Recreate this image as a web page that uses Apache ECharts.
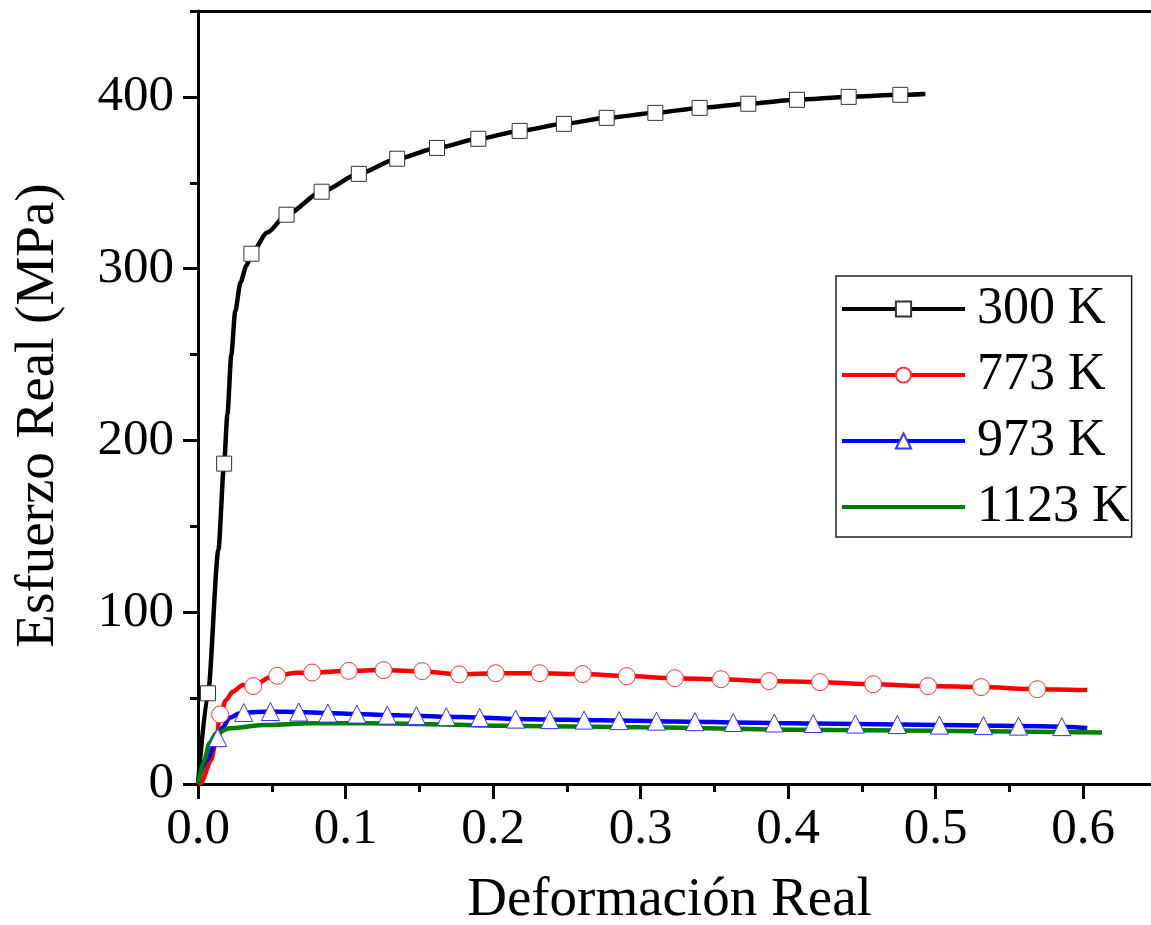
<!DOCTYPE html>
<html><head><meta charset="utf-8">
<script src="https://cdn.jsdelivr.net/npm/echarts@6/dist/echarts.min.js"></script>
<style>html,body{margin:0;padding:0;background:#fff}#c{width:1151px;height:925px}</style>
</head><body><div id="c"></div>
<script>
// ---- data ----
const seriesNames = ['300 K', '773 K', '973 K', '1123 K'];
const xTickLabels = [0, 0.1, 0.2, 0.3, 0.4, 0.5, 0.6];
const yTickLabels = [0, 100, 200, 300, 400];

// 300 K : curve points and marker (square) points
const curveStrain300 = [0, 0.0138, 0.0199, 0.0226, 0.0252, 0.0288, 0.0328, 0.047, 0.493];
const curveStress300 = [0, 136, 215, 250, 275, 292, 301.7, 321, 401.7];
const markStrain300 = [0.0068, 0.0177, 0.0362, 0.060, 0.0838, 0.109, 0.135, 0.162, 0.190, 0.218, 0.248, 0.277, 0.310, 0.340, 0.373, 0.406, 0.441, 0.476];
const markStress300 = [52.8, 186.5, 308.7, 331.4, 344.8, 355.2, 364, 370.3, 375.6, 380.2, 384.3, 387.8, 390.7, 393.6, 396, 398.3, 400, 401.2];

// 773 K : curve points and marker (circle) points
const curveStrain773 = [0, 0.002, 0.0089, 0.0123, 0.019, 0.0235, 0.0303, 0.0484, 0.0666, 0.6027];
const curveStress773 = [0, 0.5, 14, 25.6, 48.8, 53.7, 57.6, 62, 64.7, 54.7];
const markStrain773 = [0.015, 0.0374, 0.0537, 0.0774, 0.1022, 0.1258, 0.152, 0.177, 0.2018, 0.2316, 0.2608, 0.2906, 0.3232, 0.3544, 0.387, 0.4216, 0.4576, 0.4949, 0.5308, 0.5688];
const markStress773 = [40.5, 57, 63, 64.9, 65.9, 66.3, 65.7, 63.8, 64.5, 64.5, 64, 62.8, 61.6, 61, 59.9, 59.3, 58.1, 57, 56.4, 55.2];

// 973 K : curve points and marker (triangle) points
const curveStrain973 = [0, 0.006, 0.0168, 0.0213, 0.028, 0.6027];
const curveStress973 = [2, 14, 33, 38.5, 41, 32.6];
const markStrain973 = [0.0134, 0.031, 0.0491, 0.0683, 0.088, 0.1077, 0.1283, 0.148, 0.1683, 0.1909, 0.2153, 0.2384, 0.2617, 0.2854, 0.3108, 0.3368, 0.3628, 0.3906, 0.417, 0.4456, 0.474, 0.5025, 0.5324, 0.5561, 0.5855];
const markStress973 = [27, 41.6, 42.2, 41.9, 41.3, 40.7, 40.1, 39.8, 39.2, 38.7, 37.8, 37.5, 37.2, 36.9, 36.6, 36.3, 35.8, 35.5, 35.2, 34.9, 34.6, 34.3, 34, 33.7, 33.4];

// 1123 K : curve only
const curveStrain1123 = [0, 0.0043, 0.0077, 0.0123, 0.0213, 0.0439, 0.0778, 0.1117, 0.15, 0.2045, 0.3, 0.408, 0.5, 0.55, 0.6127];
const curveStress1123 = [0, 14, 23.7, 29.5, 32.4, 34.3, 35.3, 35.3, 35, 33.9, 33, 31.6, 31, 30.5, 30];
const markStrain1123 = [];
const markStress1123 = [];

// ---- build ----
function buildData(cx, cy, mx, my) {
  const pts = [];
  cx.forEach((x, i) => pts.push({ value: [x, cy[i]], symbol: 'none' }));
  mx.forEach((x, i) => pts.push({ value: [x, my[i]] }));
  pts.sort((a, b) => a.value[0] - b.value[0]);
  return pts;
}
const FONT = '"Liberation Serif", "Times New Roman", serif';

const styles = [
  { color: '#000000', symbol: 'rect', size: 15, border: '#333333', cx: curveStrain300, cy: curveStress300, mx: markStrain300, my: markStress300 },
  { color: '#ff0000', symbol: 'circle', size: 17, border: '#ff3333', cx: curveStrain773, cy: curveStress773, mx: markStrain773, my: markStress773 },
  { color: '#0000ff', symbol: 'triangle', size: 18, border: '#3333ff', cx: curveStrain973, cy: curveStress973, mx: markStrain973, my: markStress973 },
  { color: '#008000', symbol: 'none', size: 0, border: '#008000', cx: curveStrain1123, cy: curveStress1123, mx: markStrain1123, my: markStress1123 }
];

const series = styles.map((s, i) => ({
  name: seriesNames[i],
  type: 'line',
  xAxisIndex: 0,
  yAxisIndex: 0,
  data: buildData(s.cx, s.cy, s.mx, s.my),
  symbol: s.symbol,
  symbolSize: s.size,
  showSymbol: true,
  smooth: 0.25,
  smoothMonotone: 'x',
  lineStyle: { color: s.color, width: 4.5 },
  itemStyle: s.symbol === 'none' ? { color: s.color } : { color: '#ffffff', borderColor: s.border, borderWidth: 1 },
  emphasis: { disabled: true },
  animation: false,
  clip: true
}));

const legendData = seriesNames.map((n, i) => styles[i].symbol === 'none'
  ? { name: n, icon: 'path://M0,0L100,0L100,3.3L0,3.3Z', itemStyle: { color: styles[i].color } }
  : { name: n, lineStyle: { width: 4, color: styles[i].color } });

const chart = echarts.init(document.getElementById('c'), null, { renderer: 'canvas' });
chart.setOption({
  backgroundColor: '#ffffff',
  animation: false,
  grid: { left: 198, right: -6, top: 11, bottom: 141, containLabel: false, outerBoundsMode: 'none' },
  legend: {
    orient: 'vertical',
    left: 836,
    top: 276,
    padding: [7, 2, 4, 4],
    borderColor: '#222',
    borderWidth: 1.5,
    itemWidth: 123,
    itemHeight: 19,
    itemGap: 14,
    data: legendData,
    lineStyle: { width: 4 },
    textStyle: { fontFamily: FONT, fontSize: 52, lineHeight: 52, color: '#000', padding: [0, 0, 0, 7] }
  },
  xAxis: [
    {
      type: 'value', position: 'bottom', min: 0, max: 0.65, interval: 0.1,
      name: 'Deformación Real', nameLocation: 'middle', nameGap: 89,
      nameTextStyle: { fontFamily: FONT, fontSize: 55, color: '#000', padding: [0, 16, 0, 0] },
      axisLine: { show: true, lineStyle: { color: '#000', width: 3 } },
      axisTick: { show: true, inside: false, length: 15, lineStyle: { color: '#000', width: 3 }, customValues: xTickLabels },
      axisLabel: { show: true, margin: 20, fontFamily: FONT, fontSize: 51, color: '#000', customValues: xTickLabels, formatter: v => Number(v).toFixed(1) },
      splitLine: { show: false }
    },
    {
      type: 'value', position: 'bottom', min: 0, max: 0.65, interval: 0.05,
      axisLine: { show: false },
      axisTick: { show: true, inside: false, length: 8, lineStyle: { color: '#000', width: 3 } },
      axisLabel: { show: false },
      splitLine: { show: false }
    },
    {
      type: 'value', position: 'top', min: 0, max: 0.65, interval: 0.1,
      axisLine: { show: true, lineStyle: { color: '#000', width: 3 } },
      axisTick: { show: false },
      axisLabel: { show: false },
      splitLine: { show: false }
    }
  ],
  yAxis: [
    {
      type: 'value', position: 'left', min: 0, max: 450, interval: 100,
      name: 'Esfuerzo Real (MPa)', nameLocation: 'middle', nameGap: 132,
      nameTextStyle: { fontFamily: FONT, fontSize: 55, color: '#000', padding: [0, 36, 0, 0] },
      axisLine: { show: true, lineStyle: { color: '#000', width: 3 } },
      axisTick: { show: true, inside: false, length: 15, lineStyle: { color: '#000', width: 3 }, customValues: yTickLabels },
      axisLabel: { show: true, margin: 24, fontFamily: FONT, fontSize: 51, color: '#000', customValues: yTickLabels },
      splitLine: { show: false }
    },
    {
      type: 'value', position: 'left', min: 0, max: 450, interval: 50,
      axisLine: { show: false },
      axisTick: { show: true, inside: false, length: 8, lineStyle: { color: '#000', width: 3 } },
      axisLabel: { show: false },
      splitLine: { show: false }
    }
  ],
  series: series
});
</script>
</body></html>
